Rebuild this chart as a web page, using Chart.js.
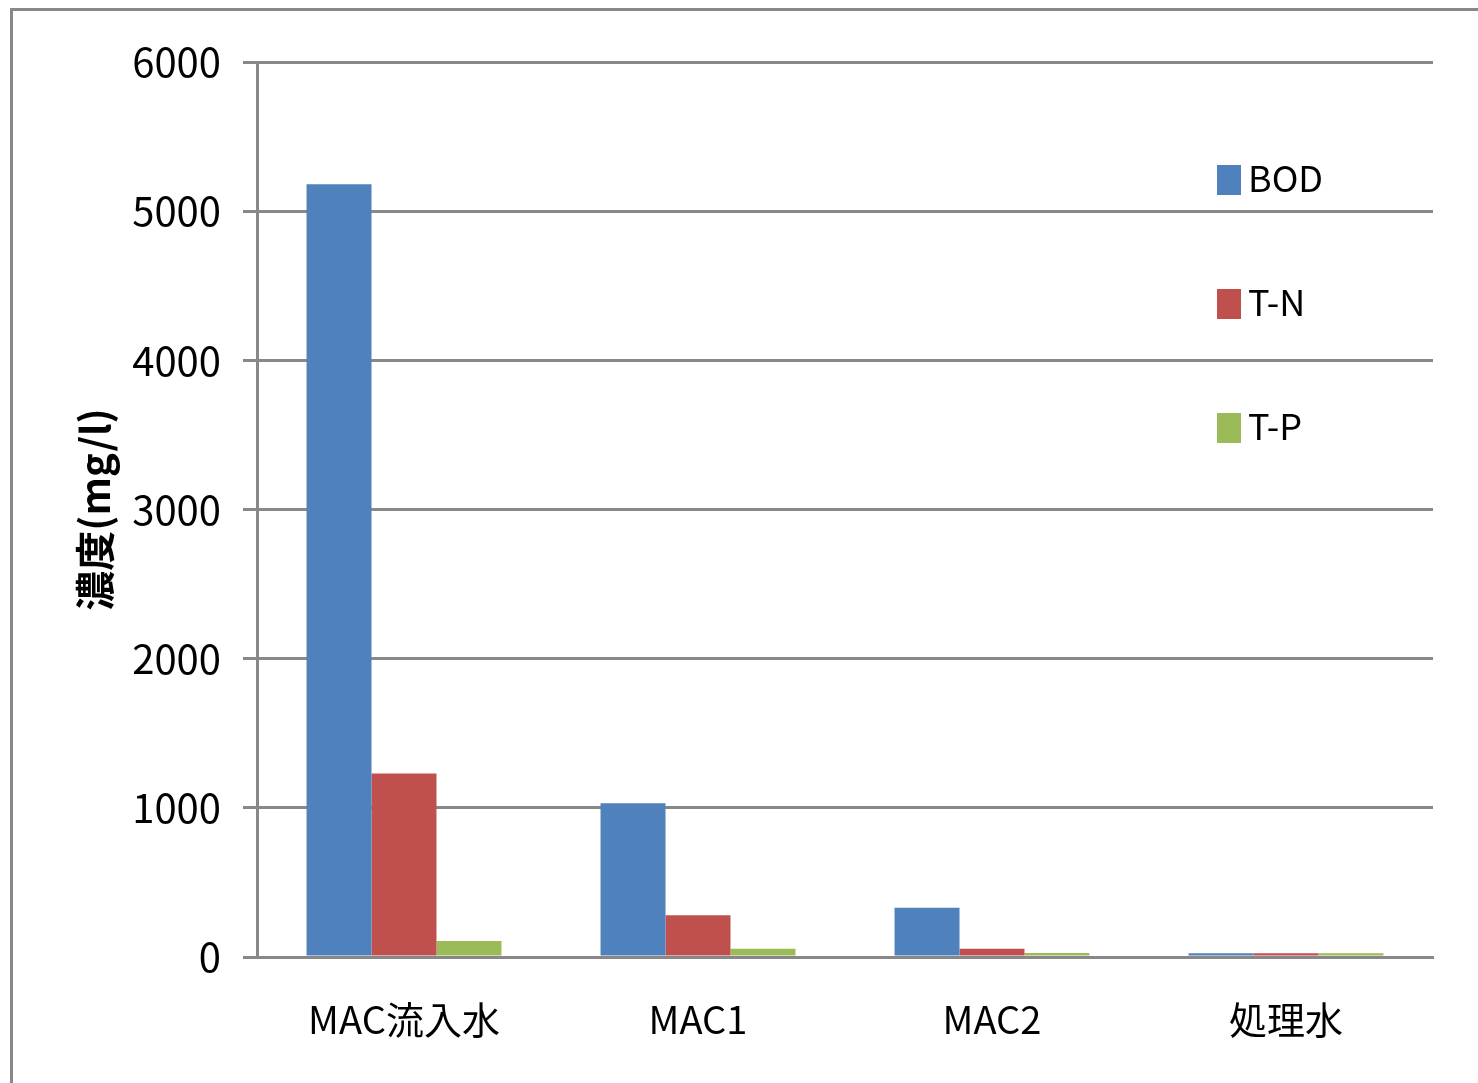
<!DOCTYPE html>
<html lang="ja">
<head>
  <meta charset="UTF-8">
  <title>濃度 (mg/l)</title>
  <style>
    html, body { margin: 0; padding: 0; background: #fff; overflow: hidden; }
    #wrap { width: 1478px; height: 1083px; }
  </style>
</head>
<body>
  <div id="wrap"><canvas id="chart" width="1478" height="1083"></canvas></div>

  <script src="https://cdn.jsdelivr.net/npm/chart.js"></script>
  <script>
    // データ
    const categories = ['MAC流入水', 'MAC1', 'MAC2', '処理水'];
    const seriesNames = ['BOD', 'T-N', 'T-P'];
    const bodValues = [5180, 1030, 330, 25];
    const tnValues  = [1230, 280, 55, 25];
    const tpValues  = [107, 55, 27, 25];
    const yTicks = [0, 1000, 2000, 3000, 4000, 5000, 6000];

    const colors = ['#4F81BD', '#C0504D', '#9BBB59'];
    const gridColor = '#888888';
    const font = "'Noto Sans CJK JP', 'Noto Sans', sans-serif";

    // 外枠
    const framePlugin = {
      id: 'frame',
      beforeDraw(chart) {
        const ctx = chart.ctx;
        ctx.save();
        ctx.fillStyle = '#fff';
        ctx.fillRect(0, 0, chart.width, chart.height);
        ctx.strokeStyle = gridColor;
        ctx.lineWidth = 3;
        ctx.strokeRect(11.5, 9.5, 1600, 1200);
        ctx.restore();
      }
    };

    // 凡例（プロット内右側に縦並び）
    const legendPlugin = {
      id: 'sideLegend',
      afterDraw(chart) {
        const ctx = chart.ctx;
        ctx.save();
        ctx.font = `36px ${font}`;
        ctx.textBaseline = 'middle';
        chart.data.datasets.forEach((ds, i) => {
          const y = 180 + i * 124;
          ctx.fillStyle = ds.backgroundColor;
          ctx.fillRect(1217, y - 15, 24, 30);
          ctx.fillStyle = '#000';
          ctx.fillText(ds.label, 1248, y - 2);
        });
        ctx.restore();
      }
    };

    const values = [bodValues, tnValues, tpValues];

    new Chart(document.getElementById('chart').getContext('2d'), {
      type: 'bar',
      data: {
        labels: categories,
        datasets: seriesNames.map((name, i) => ({
          label: name,
          data: values[i],
          backgroundColor: colors[i],
          borderWidth: 0,
          barPercentage: 1,
          categoryPercentage: 0.663
        }))
      },
      options: {
        responsive: false,
        animation: false,
        layout: { padding: { top: 62, right: 45, left: 0, bottom: 0 } },
        plugins: {
          legend: { display: false },
          tooltip: { enabled: false }
        },
        scales: {
          x: {
            grid: { display: false, drawTicks: false },
            border: { display: true, color: gridColor, width: 3 },
            ticks: {
              color: '#000',
              font: { family: font, size: 38 },
              padding: 40
            },
            afterFit(scale) { scale.height = 126; }
          },
          y: {
            min: 0,
            max: 6000,
            afterBuildTicks(scale) { scale.ticks = yTicks.map(v => ({ value: v })); },
            grid: { color: gridColor, lineWidth: 3, tickLength: 14 },
            border: { display: true, color: gridColor, width: 3 },
            ticks: {
              color: '#000',
              font: { family: font, size: 40 },
              padding: 22,
              callback: v => String(v)
            },
            title: {
              display: true,
              text: '濃度(mg/l)',
              color: '#000',
              font: { family: font, size: 40, weight: 'bold' },
              padding: { top: 71, bottom: 0 }
            },
            afterFit(scale) { scale.width = 257; }
          }
        }
      },
      plugins: [framePlugin, legendPlugin]
    });
  </script>
</body>
</html>
